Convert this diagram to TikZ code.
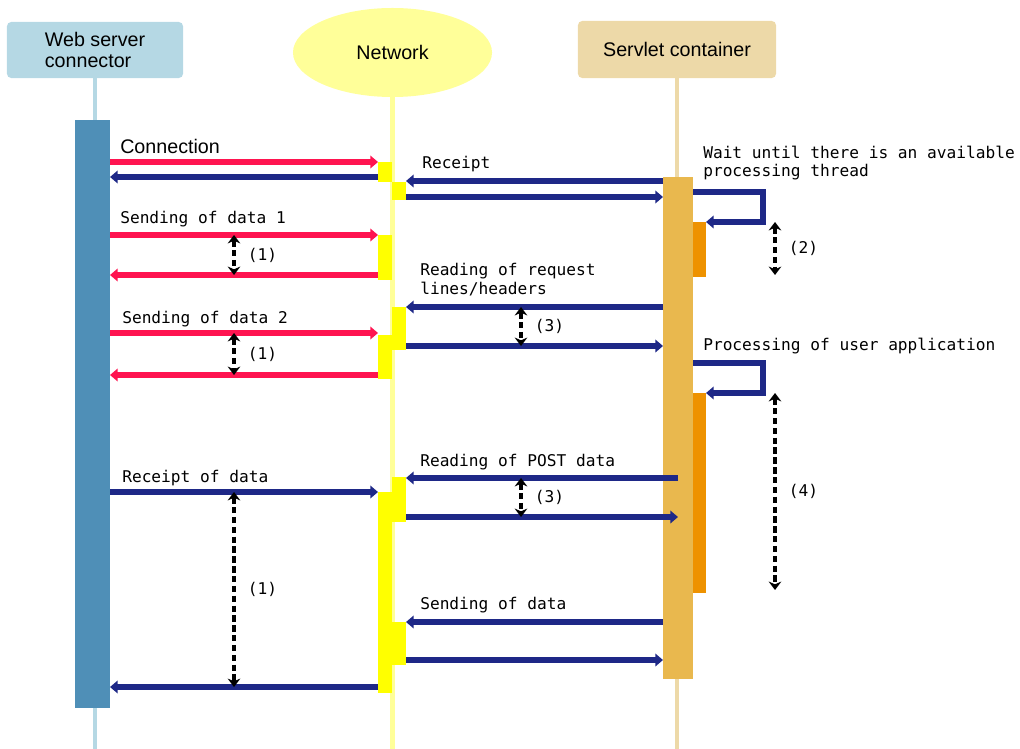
\documentclass[tikz,border=0pt]{standalone}
\usepackage{fontspec}
\setmainfont{Liberation Sans}
\newfontfamily\msgfont{DejaVu Sans Mono}
\usetikzlibrary{arrows.meta,shapes.geometric,fit}

\definecolor{wscboxc}{HTML}{B5D8E4}
\definecolor{wscbarc}{HTML}{4F8FB7}
\definecolor{netfillc}{HTML}{FFFF99}
\definecolor{netbarc}{HTML}{FFFF00}
\definecolor{scboxc}{HTML}{EDD9A8}
\definecolor{scbarc}{HTML}{E9B84E}
\definecolor{scactc}{HTML}{EE9200}
\definecolor{msgred}{HTML}{FF1450}
\definecolor{msgblue}{HTML}{1E2887}

\tikzset{
  headbox/.style={rounded corners=3pt, inner sep=0pt, font=\fontsize{14}{14.5}\selectfont},
  lifeline/.style={line width=3.5pt},
  actbar/.style={inner sep=0pt, outer sep=0pt},
  msg/.style={line width=4.5pt, miter limit=4, -{Triangle[length=5.5pt,width=9pt]}},
  redmsg/.style={msg, msgred},
  bluemsg/.style={msg, msgblue},
  gaparrow/.style={line width=2.6pt, dash pattern=on 4.5pt off 2.5pt,
    {Stealth[length=6pt,width=9pt]}-{Stealth[length=6pt,width=9pt]}},
  sanstxt/.style={font=\fontsize{14}{14.5}\selectfont, inner sep=0pt, anchor=base west},
  msgtxt/.style={font=\msgfont\fontsize{11.5}{14}\selectfont, inner sep=0pt, anchor=base west},
  gaptxt/.style={font=\msgfont\fontsize{11.5}{14}\selectfont, inner sep=0pt, anchor=west, xshift=8.5pt}
}

\begin{document}
\begin{tikzpicture}[x=0.025cm,y=-0.025cm]
  \useasboundingbox (0,0) rectangle (1020,749);
  %% heads
  \node[headbox, fill=wscboxc, minimum width=4.4cm, minimum height=1.4cm, align=left] (wsc) at (95,50) {Web server\\connector};
  \node[ellipse, fill=netfillc, inner sep=0pt, minimum width=4.975cm, minimum height=2.225cm, font=\fontsize{14}{14.5}\selectfont] (net) at (392.5,52.5) {Network};
  \node[headbox, fill=scboxc, minimum width=4.95cm, minimum height=1.425cm] (sc) at (677,49.5) {Servlet container};
  %% lifelines
  \draw[lifeline, wscboxc] (wsc.south) -- (wsc.south |- 0,749);
  \draw[lifeline, netfillc] (net.south) -- (net.south |- 0,749);
  \draw[lifeline, scboxc] (sc.south) -- (sc.south |- 0,749);
  %% activation bars
  \node[actbar, fill=wscbarc, fit={(75,120) (110,708)}] (wscact) {};
  \node[actbar, fill=scbarc, fit={(663,177) (693,679)}] (scact) {};
  \node[actbar, fill=scactc, fit={(693,222) (706,277)}] (oA) {};
  \node[actbar, fill=scactc, fit={(693,393) (706,593)}] (oB) {};
  \foreach \name/\xa/\ya/\xb/\yb in {nA/378/162/392/182, nB/392/182/406/200,
      nC/378/235/392/280, nD/392/307/406/350, nE/378/335/392/379,
      nF/392/477/406/522, nG/378/492/392/693, nH/392/622/406/665}
    \node[actbar, fill=netbarc, fit={(\xa,\ya) (\xb,\yb)}] (\name) {};
  %% connector <-> network
  \draw[redmsg] (wscact.east |- 0,162) -- (nA.west |- 0,162);
  \draw[bluemsg] (nA.west |- 0,177) -- (wscact.east |- 0,177);
  \draw[redmsg] (wscact.east |- 0,235) -- (nC.west |- 0,235);
  \draw[redmsg] (nC.west |- 0,275) -- (wscact.east |- 0,275);
  \draw[redmsg] (wscact.east |- 0,333) -- (nE.west |- 0,333);
  \draw[redmsg] (nE.west |- 0,375) -- (wscact.east |- 0,375);
  \draw[bluemsg] (wscact.east |- 0,492) -- (nG.west |- 0,492);
  \draw[bluemsg] (nG.west |- 0,687) -- (wscact.east |- 0,687);
  %% network <-> servlet container
  \draw[bluemsg] (scact.west |- 0,181) -- (nB.east |- 0,181);
  \draw[bluemsg] (nB.east |- 0,197) -- (scact.west |- 0,197);
  \draw[bluemsg] (scact.west |- 0,307) -- (nD.east |- 0,307);
  \draw[bluemsg] (nD.east |- 0,346) -- (scact.west |- 0,346);
  \draw[bluemsg] (scact |- 0,478) -- (nF.east |- 0,478);
  \draw[bluemsg] (nF.east |- 0,517) -- (scact |- 0,517);
  \draw[bluemsg] (scact.west |- 0,622) -- (nH.east |- 0,622);
  \draw[bluemsg] (nH.east |- 0,660) -- (scact.west |- 0,660);
  %% self calls
  \draw[bluemsg] (scact.east |- 0,192) -- ++(70,0) |- (oA.north east);
  \draw[bluemsg] (scact.east |- 0,363) -- ++(70,0) |- (oB.north east);
  %% waiting times
  \foreach \x/\ya/\yb/\t [count=\i] in {234/235/275/1, 234/333/375/1, 234/492/687/1,
      521/307/346/3, 521/478/517/3, 775/222/275/2, 775/393/590/4} {
    \coordinate (gaptop\i) at (\x,\ya);
    \coordinate (gapbot\i) at (\x,\yb);
    \draw[gaparrow] (gaptop\i) -- node[gaptxt] {(\t)} (gapbot\i);
  }
  %% labels
  \node[sanstxt] (lblconn) at (120,153) {Connection};
  \node[msgtxt] (lblrecv) at (422,168) {Receipt};
  \node[msgtxt] (lblwait) at (703,158) {Wait until there is an available};
  \node[msgtxt] (lblwait2) at (703,176) {processing thread};
  \node[msgtxt] (lblsend1) at (120,223) {Sending of data 1};
  \node[msgtxt] (lblreq) at (420,275) {Reading of request};
  \node[msgtxt] (lblreq2) at (420,294) {lines/headers};
  \node[msgtxt] (lblsend2) at (122,323) {Sending of data 2};
  \node[msgtxt] (lblproc) at (703,350) {Processing of user application};
  \node[msgtxt] (lblpost) at (420,466) {Reading of POST data};
  \node[msgtxt] (lbldata) at (122,482) {Receipt of data};
  \node[msgtxt] (lblsend) at (420,609) {Sending of data};
\end{tikzpicture}
\end{document}
